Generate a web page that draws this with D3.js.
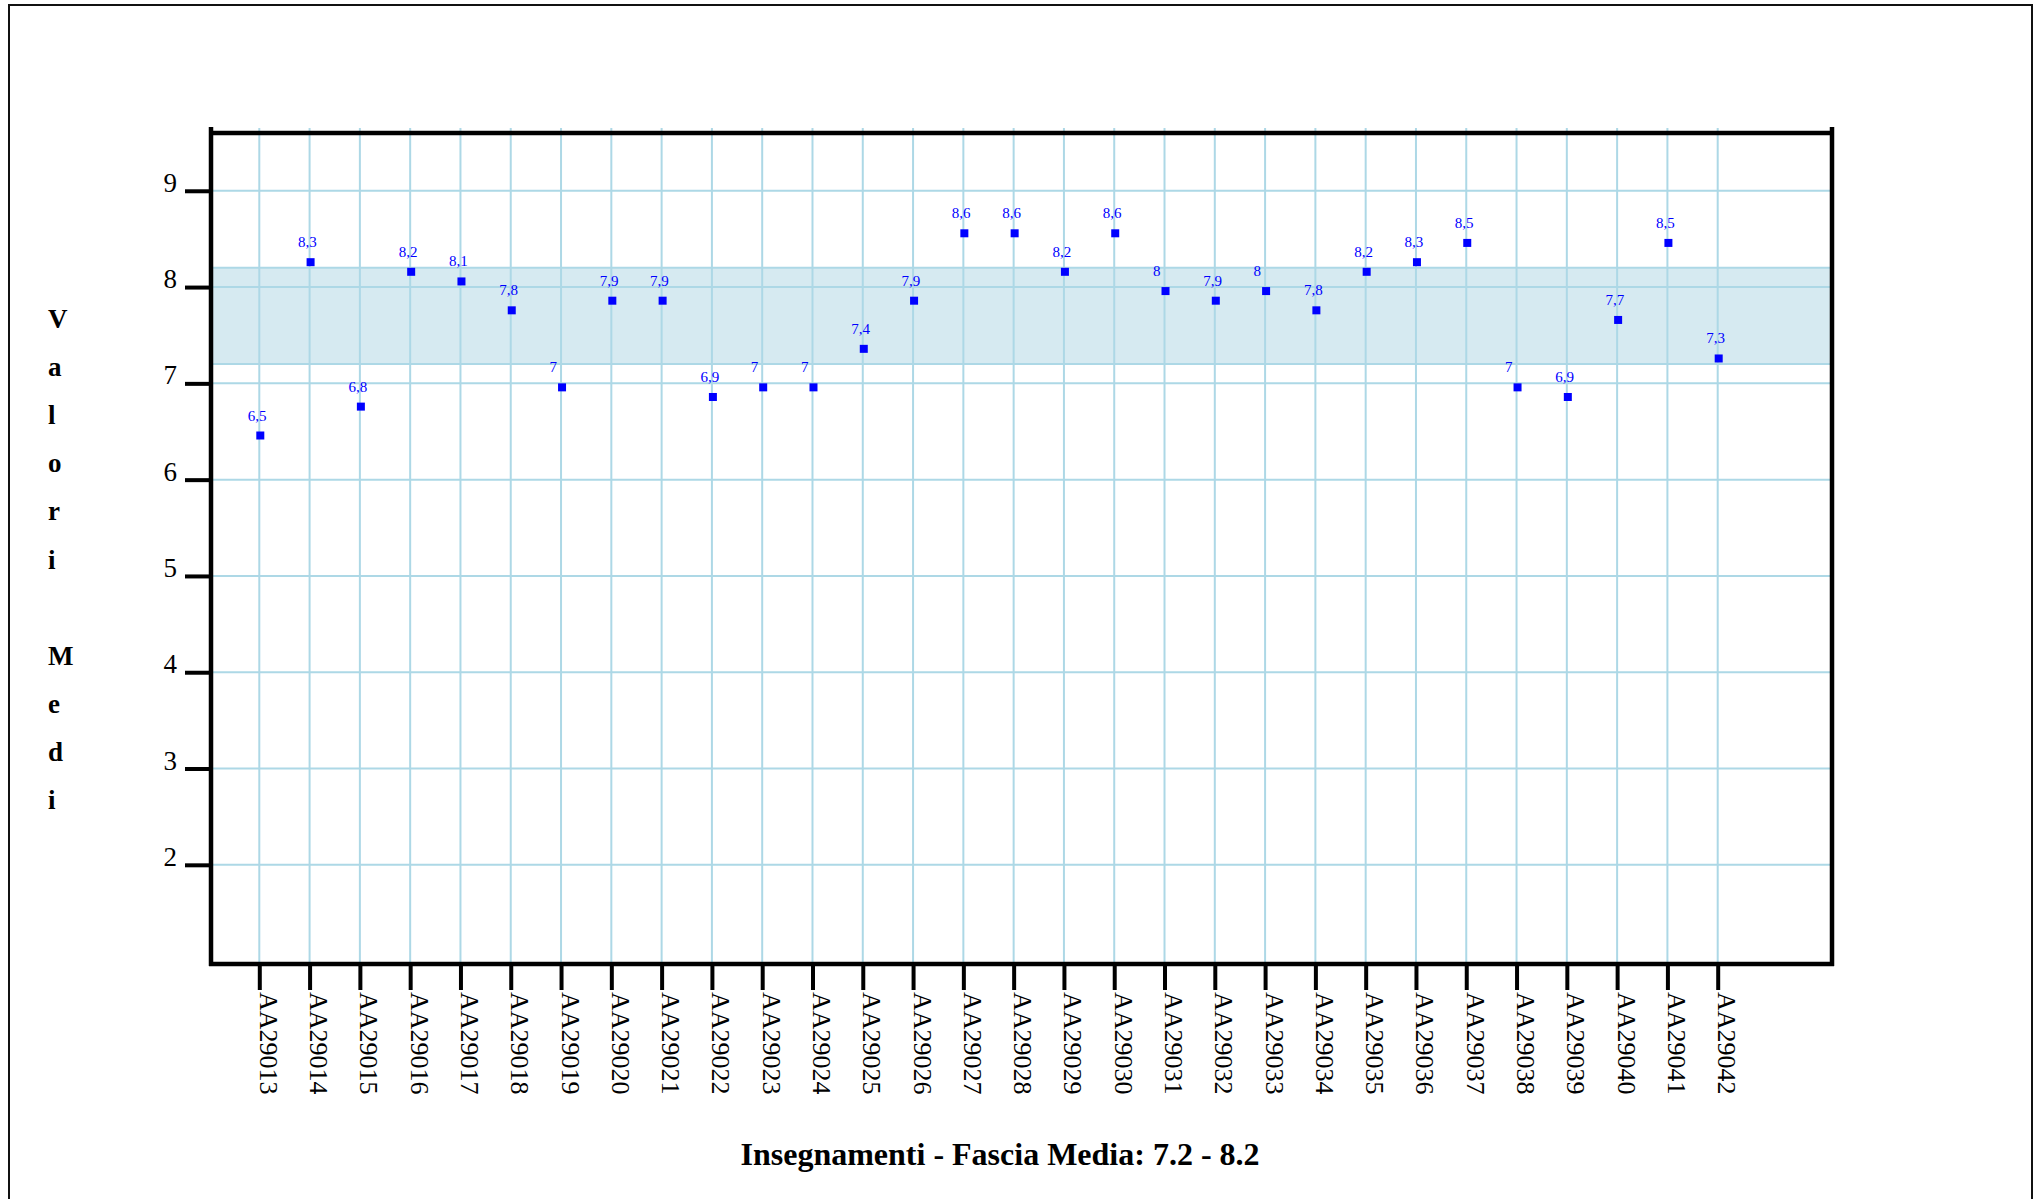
<!DOCTYPE html>
<html>
<head>
<meta charset="utf-8">
<script src="https://cdn.jsdelivr.net/npm/d3@7"></script>
<style>
  body { margin: 0; background: #fff; }
  svg { display: block; }
</style>
</head>
<body>
<svg id="chart" width="2043" height="1199"></svg>
<script>
// Course codes along the x axis
const categories = [
  "AA29013", "AA29014", "AA29015", "AA29016", "AA29017", "AA29018",
  "AA29019", "AA29020", "AA29021", "AA29022", "AA29023", "AA29024",
  "AA29025", "AA29026", "AA29027", "AA29028", "AA29029", "AA29030",
  "AA29031", "AA29032", "AA29033", "AA29034", "AA29035", "AA29036",
  "AA29037", "AA29038", "AA29039", "AA29040", "AA29041", "AA29042"
];
// Mean score per course
const values = [
  6.5, 8.3, 6.8, 8.2, 8.1, 7.8,
  7.0, 7.9, 7.9, 6.9, 7.0, 7.0,
  7.4, 7.9, 8.6, 8.6, 8.2, 8.6,
  8.0, 7.9, 8.0, 7.8, 8.2, 8.3,
  8.5, 7.0, 6.9, 7.7, 8.5, 7.3
];
const yTicks = [2, 3, 4, 5, 6, 7, 8, 9];
const bandRange = [7.2, 8.2];
const yDomain = [0.97, 9.6];
const yTitle = "Valori Medi";
const chartTitle = "Insegnamenti - Fascia Media: 7.2 - 8.2";

const serif = '"Liberation Serif", "Times New Roman", Times, serif';
const gridColor = "#ADD8E6";

const svg = d3.select("#chart");
const W = 2043, H = 1199;
const plot = { left: 211, right: 1832, top: 133, bottom: 964 };

const x = d3.scalePoint().domain(categories).range([259.3, 1717.7]);
const y = d3.scaleLinear().domain(yDomain).range([plot.bottom, plot.top]);

// Outer frame
svg.append("rect")
  .attr("x", 9).attr("y", 5)
  .attr("width", 2032 - 9).attr("height", H + 20)
  .attr("fill", "none").attr("stroke", "#111").attr("stroke-width", 2);

// Average band
svg.append("rect")
  .attr("x", plot.left).attr("y", y(bandRange[1]))
  .attr("width", plot.right - plot.left)
  .attr("height", y(bandRange[0]) - y(bandRange[1]))
  .attr("fill", "#D6EAF1");

// Horizontal grid (integer ticks plus band edges)
svg.append("g").selectAll("line")
  .data(yTicks.concat(bandRange))
  .join("line")
  .attr("x1", plot.left).attr("x2", plot.right)
  .attr("y1", d => y(d)).attr("y2", d => y(d))
  .attr("stroke", gridColor).attr("stroke-width", 2);

// Vertical grid at each course
svg.append("g").selectAll("line")
  .data(categories)
  .join("line")
  .attr("x1", d => x(d)).attr("x2", d => x(d))
  .attr("y1", plot.top - 5).attr("y2", plot.bottom)
  .attr("stroke", gridColor).attr("stroke-width", 2);

// Y axis
const yAxis = svg.append("g")
  .attr("transform", `translate(${plot.left},0)`)
  .call(d3.axisLeft(y).tickValues(yTicks).tickSize(26).tickPadding(8).tickFormat(d3.format("d")));
yAxis.select(".domain").remove();
yAxis.selectAll(".tick line").attr("stroke", "#000").attr("stroke-width", 4);
yAxis.selectAll(".tick text")
  .attr("font-family", serif).attr("font-size", 27)
  .attr("fill", "#000").attr("dy", "0.02em");

// X axis
const xAxis = svg.append("g")
  .attr("transform", `translate(0,${plot.bottom})`)
  .call(d3.axisBottom(x).tickSize(26).tickPadding(0));
xAxis.select(".domain").remove();
xAxis.selectAll(".tick line").attr("stroke", "#000").attr("stroke-width", 4);
xAxis.selectAll(".tick text")
  .attr("font-family", serif).attr("font-size", 26).attr("fill", "#000")
  .attr("transform", "rotate(90)")
  .attr("text-anchor", "start")
  .attr("x", 28).attr("y", 0).attr("dy", 0);

// Plot frame
const frame = svg.append("g").attr("stroke", "#000").attr("stroke-width", 4.5);
frame.append("line").attr("x1", plot.left).attr("x2", plot.left).attr("y1", plot.top - 6).attr("y2", plot.bottom + 2);
frame.append("line").attr("x1", plot.right).attr("x2", plot.right).attr("y1", plot.top - 6).attr("y2", plot.bottom + 2);
frame.append("line").attr("x1", plot.left - 2).attr("x2", plot.right + 2).attr("y1", plot.top).attr("y2", plot.top);
frame.append("line").attr("x1", plot.left - 2).attr("x2", plot.right + 2).attr("y1", plot.bottom).attr("y2", plot.bottom);

// Points and value labels
const pts = categories.map((c, i) => ({ c, v: values[i] }));
svg.append("g").selectAll("rect")
  .data(pts)
  .join("rect")
  .attr("x", d => x(d.c) - 3)
  .attr("y", d => y(d.v))
  .attr("width", 8).attr("height", 8)
  .attr("fill", "#0000FF");

svg.append("g").selectAll("text")
  .data(pts)
  .join("text")
  .attr("x", d => x(d.c) - 11.5)
  .attr("y", d => y(d.v) - 11)
  .attr("font-family", serif).attr("font-size", 15)
  .attr("fill", "#0000FF")
  .text(d => String(d.v).replace(".", ","));

// Y title, one letter per line
const yt = svg.append("text")
  .attr("font-family", serif).attr("font-size", 27).attr("font-weight", "bold")
  .attr("fill", "#000");
yTitle.split("").forEach((ch, i) => {
  yt.append("tspan")
    .attr("x", 48)
    .attr("y", 328 + i * 48.1)
    .text(ch === " " ? "\u00A0" : ch);
});

// Bottom title
svg.append("text")
  .attr("x", 1000).attr("y", 1165)
  .attr("text-anchor", "middle")
  .attr("font-family", serif).attr("font-size", 32).attr("font-weight", "bold")
  .attr("fill", "#000")
  .text(chartTitle);
</script>
</body>
</html>
